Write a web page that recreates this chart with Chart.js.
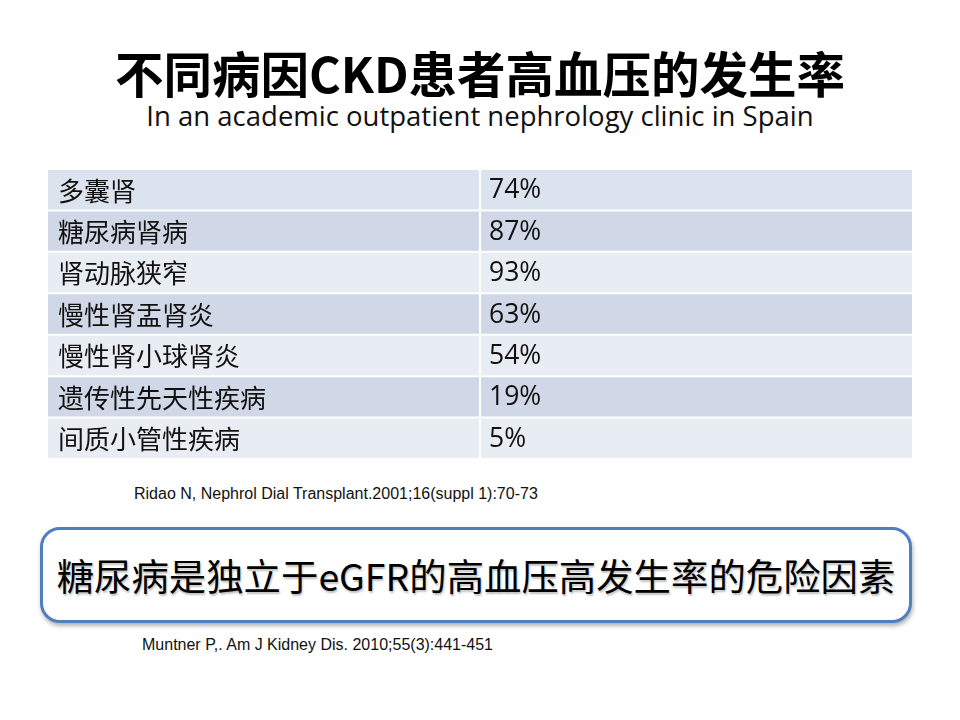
<!DOCTYPE html>
<html>
<head>
<meta charset="utf-8">
<script src="https://cdn.jsdelivr.net/npm/chart.js@4.4.1/dist/chart.umd.min.js"></script>
<style>
  html, body { margin:0; padding:0; background:#fff; width:960px; height:720px; overflow:hidden; }
  .abs { position:absolute; }
  #title { left:0; width:960px; top:42px; text-align:center; font-family:"Noto Sans CJK SC"; font-weight:bold; font-size:48.5px; line-height:60px; color:#000; }
  #subtitle { left:0; width:960px; top:97px; text-align:center; font-family:"Open Sans"; font-size:27.5px; line-height:38px; color:#111; }
  #wrap { left:48px; top:169px; width:864px; height:290px; }
  .cite { font-family:"Liberation Sans", Arial; font-size:16px; line-height:18px; color:#111; }
  #cite1 { left:134px; top:485px; }
  #cite2 { left:142px; top:636px; }
  #box { left:40px; top:527px; width:866px; height:90px; border:3px solid #4f7fbf; border-radius:20px; box-shadow:1px 3px 4px rgba(0,0,0,0.3); background:#fff; }
  #boxtext { left:40px; width:872px; top:549px; text-align:center; font-family:"Noto Sans CJK SC"; font-size:37.4px; line-height:52px; color:#000; text-shadow:1px 2px 2px rgba(0,0,0,0.25); }
</style>
</head>
<body>
<div id="title" class="abs">不同病因CKD患者高血压的发生率</div>
<div id="subtitle" class="abs">In an academic outpatient nephrology clinic in Spain</div>
<div id="wrap" class="abs"><canvas id="c"></canvas></div>
<div id="cite1" class="abs cite">Ridao N, Nephrol Dial Transplant.2001;16(suppl 1):70-73</div>
<div id="box" class="abs"></div>
<div id="boxtext" class="abs">糖尿病是独立于eGFR的高血压高发生率的危险因素</div>
<div id="cite2" class="abs cite">Muntner P,. Am J Kidney Dis. 2010;55(3):441-451</div>
<script>
const causes = ["多囊肾", "糖尿病肾病", "肾动脉狭窄", "慢性肾盂肾炎", "慢性肾小球肾炎", "遗传性先天性疾病", "间质小管性疾病"];
const hypertensionRate = [74, 87, 93, 63, 54, 19, 5];
const rowColors = ["#dbe3ef", "#d0d7e6", "#e8ecf3", "#d0d7e6", "#e8ecf3", "#d0d7e6", "#e8ecf3"];

// table cell spans along the x scale (0..1): left column, right column
const split = 0.4988, gap = 0.0024;
const leftCells = causes.map(() => [0, split]);
const rightCells = causes.map(() => [split + gap, 1]);

const cellText = {
  id: 'cellText',
  afterDatasetsDraw(chart) {
    const ctx = chart.ctx;
    const xs = chart.scales.x, ys = chart.scales.y;
    ctx.save();
    ctx.fillStyle = '#111';
    ctx.textBaseline = 'middle';
    ctx.textAlign = 'left';
    causes.forEach((c, i) => {
      const y = ys.getPixelForValue(i) + 1;
      ctx.font = '26px "Noto Sans CJK SC"';
      ctx.fillText(c, xs.getPixelForValue(0) + 10, y);
      ctx.font = '26.5px "Open Sans"';
      ctx.fillText(hypertensionRate[i] + '%', xs.getPixelForValue(split + gap) + 8, y);
    });
    ctx.restore();
  }
};

new Chart(document.getElementById('c'), {
  type: 'bar',
  data: {
    labels: causes,
    datasets: [
      { label: '病因', data: leftCells, backgroundColor: rowColors, grouped: false, borderSkipped: false, barPercentage: 1, categoryPercentage: 0.952 },
      { label: '高血压发生率', data: rightCells, backgroundColor: rowColors, grouped: false, borderSkipped: false, barPercentage: 1, categoryPercentage: 0.952 }
    ]
  },
  options: {
    indexAxis: 'y',
    responsive: true,
    maintainAspectRatio: false,
    animation: false,
    layout: { padding: 0 },
    plugins: { legend: { display: false }, tooltip: { enabled: false }, title: { display: false } },
    scales: {
      x: { type: 'linear', min: 0, max: 1, display: false },
      y: { type: 'category', display: false, offset: true }
    }
  },
  plugins: [cellText]
});
</script>
</body>
</html>
